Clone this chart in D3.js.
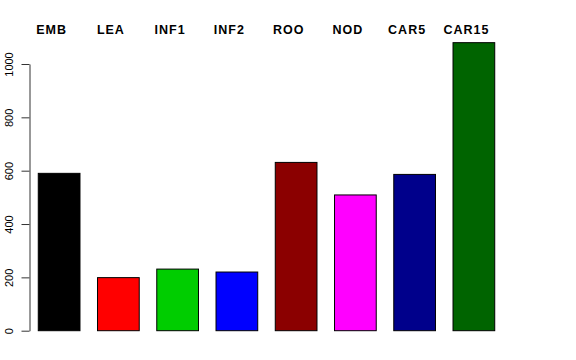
<!DOCTYPE html>
<html>
<head>
<meta charset="utf-8">
<script src="https://cdn.jsdelivr.net/npm/d3@7"></script>
<style>
  body { margin: 0; background: #fff; }
  svg { display: block; font-family: "Liberation Sans", Arial, sans-serif; }
</style>
</head>
<body>
<div id="viz"></div>
<script>
// data
const categories = ["EMB", "LEA", "INF1", "INF2", "ROO", "NOD", "CAR5", "CAR15"];
const values = [590, 199, 231, 220, 631, 509, 586, 1080];
const barColors = ["#000000", "#FF0000", "#00CD00", "#0000FF", "#8B0000", "#FF00FF", "#00008B", "#006400"];
const yTicks = [0, 200, 400, 600, 800, 1000];

const svg = d3.select("#viz")
  .append("svg")
  .attr("width", 576)
  .attr("height", 360);

// x: one band per category, bars start right after the axis
const x = d3.scaleBand()
  .domain(categories)
  .range([29.5, 503.5])
  .paddingInner(0.296)
  .paddingOuter(0.148);

// y: 0 at the bottom of the plot, 1000 at the top tick
const y = d3.scaleLinear()
  .domain([0, 1000])
  .range([330.7, 64]);

// bars
svg.selectAll("rect.bar")
  .data(values)
  .enter()
  .append("rect")
  .attr("class", "bar")
  .attr("x", (d, i) => x(categories[i]))
  .attr("y", d => y(d))
  .attr("width", x.bandwidth())
  .attr("height", d => y(0) - y(d))
  .attr("fill", (d, i) => barColors[i])
  .attr("stroke", "#000")
  .attr("stroke-width", 1);

// left axis, R style (line only spans the tick range)
const yAxis = d3.axisLeft(y)
  .tickValues(yTicks)
  .tickSize(8)
  .tickSizeOuter(0)
  .tickFormat(d3.format("d"));

const gy = svg.append("g")
  .attr("transform", "translate(29.5,0)")
  .call(yAxis);

gy.select(".domain")
  .attr("stroke", "#333");
gy.selectAll(".tick line")
  .attr("stroke", "#333");
// rotate tick labels like las=0 in R
gy.selectAll(".tick text")
  .attr("transform", "rotate(-90)")
  .attr("x", 0)
  .attr("y", -16.5)
  .attr("dy", 0)
  .attr("text-anchor", "middle")
  .attr("font-size", 11)
  .attr("font-family", "Liberation Sans, Arial, sans-serif")
  .attr("fill", "#000");

// category labels along the top
svg.selectAll("text.catLabel")
  .data(categories)
  .enter()
  .append("text")
  .attr("class", "catLabel")
  .attr("x", d => x(d) + x.bandwidth() / 2 - 7.5)
  .attr("y", 34.3)
  .attr("text-anchor", "middle")
  .attr("font-size", 12.5)
  .attr("font-weight", "bold")
  .attr("letter-spacing", 1)
  .text(d => d);
</script>
</body>
</html>
